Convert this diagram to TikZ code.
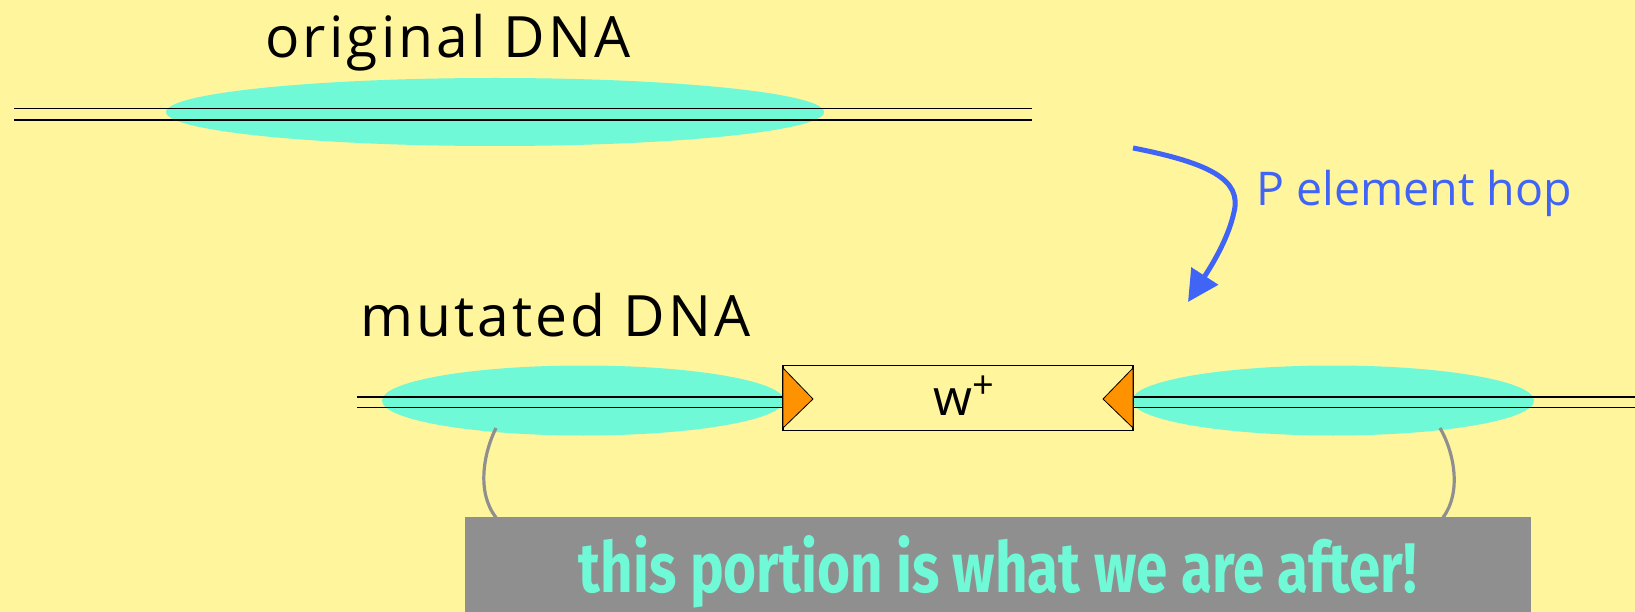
\documentclass[tikz,border=0pt]{standalone}
\usepackage{fontspec}
\setmainfont{Open Sans}
\newfontfamily\spacedfont{Open Sans}[LetterSpace=5.5]
\newfontfamily\handfont{Fira Sans}
\usetikzlibrary{arrows.meta}
\definecolor{bgyellow}{RGB}{255,245,157}
\definecolor{aqua}{RGB}{112,249,214}
\definecolor{hopblue}{RGB}{64,100,245}
\definecolor{tipor}{RGB}{255,146,0}
\definecolor{signgrey}{RGB}{143,143,143}
\tikzset{
  strand/.style={draw=black,line width=1.8pt},
  label/.style={inner sep=0pt,anchor=base west,font=\spacedfont\fontsize{57}{64}\selectfont},
  hook/.style={draw=signgrey,line width=3.2pt},
  flag/.style={fill=tipor,draw=black,line width=0.8pt,line join=round},
}
\begin{document}
\begin{tikzpicture}[x=1pt,y=-1pt]
\fill[bgyellow] (0,0) rectangle (1635,612);
\useasboundingbox (0,0) rectangle (1635,612);
% original DNA
\node[label] (orig) at (265,58) {original DNA};
\fill[aqua] (495,112) ellipse [x radius=329pt, y radius=34pt];
\coordinate (t1a) at (14,108.5);
\coordinate (t1b) at (1032,108.5);
\coordinate (t2a) at (14,120);
\coordinate (t2b) at (1032,120);
\draw[strand] (t1a) -- (t1b);
\draw[strand] (t2a) -- (t2b);
% arrow
\coordinate (hs) at (1133,148);
\coordinate (he) at (1188,302);
\draw[hopblue,line width=5pt,-{Triangle[length=31pt,width=31pt]}]
  (hs) .. controls (1210,163) and (1242,180) .. (1234,212)
  .. controls (1228,240) and (1210,268) .. (he);
\node[inner sep=0pt,anchor=base west,text=hopblue,font=\fontsize{46.5}{52}\selectfont] (hop) at (1256,206) {P element hop};
% mutated DNA
\node[label] (mut) at (360,336) {mutated DNA};
\fill[aqua] (583,400.5) ellipse [x radius=201pt, y radius=35pt];
\fill[aqua] (1333,400.5) ellipse [x radius=201pt, y radius=35pt];
\node[draw=black,line width=1.2pt,minimum width=350pt,minimum height=65pt,inner sep=0pt] (wbox) at (958,398) {};
\node[inner sep=0pt,anchor=base west,font=\fontsize{50}{56}\selectfont] (wlab) at (933,415) {w\raisebox{17pt}{\fontsize{38}{42}\selectfont +}};
\draw[strand] (357,396.7) coordinate (m1a) -- (wbox.west |- m1a);
\draw[strand] (357,407.5) coordinate (m2a) -- (wbox.west |- m2a);
\draw[strand] (wbox.east |- m1a) -- (1635,396.7) coordinate (m1b);
\draw[strand] (wbox.east |- m2a) -- (1635,407.5) coordinate (m2b);
\draw[flag] (783,368) -- (813,399) -- (783,428) -- cycle;
\draw[flag] (1133,368) -- (1103,399) -- (1133,428) -- cycle;
% sign
\node[fill=signgrey,inner sep=0pt,minimum width=1066pt,minimum height=100pt,anchor=north west] (sign) at (465,517) {};
\node[inner sep=0pt,anchor=base,text=aqua] (signtxt) at (998,592)
  {\resizebox{838pt}{57pt}{\handfont\bfseries this portion is what we are after!}};
\coordinate (lh1) at (496,428);
\coordinate (lh2) at (496,517.5);
\coordinate (rh1) at (1440,428);
\coordinate (rh2) at (1443,517.5);
\draw[hook] (lh1) .. controls (484,452) and (476,492) .. (lh2);
\draw[hook] (rh1) .. controls (1454,452) and (1462,492) .. (rh2);
\end{tikzpicture}
\end{document}
